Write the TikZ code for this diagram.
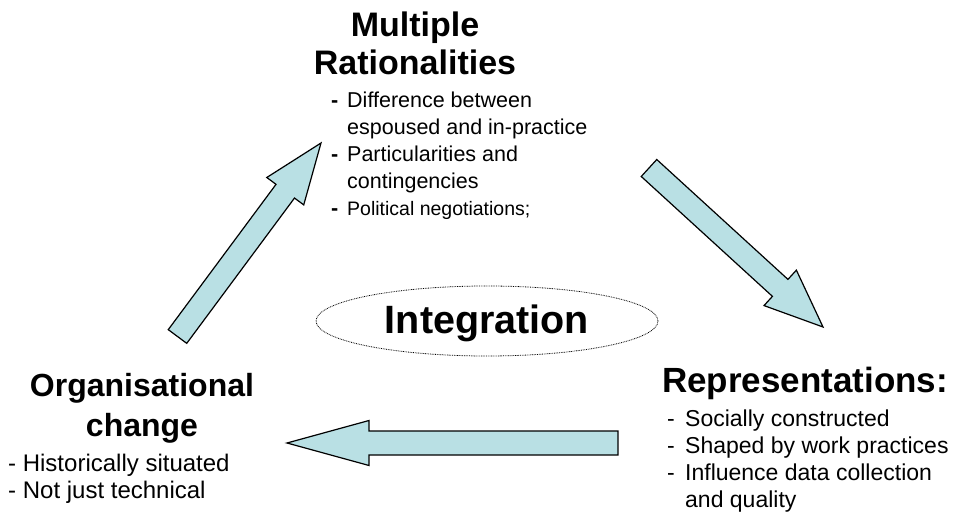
\documentclass[tikz,border=0pt]{standalone}
\usepackage{fontspec}
\setmainfont{Liberation Sans}
\usetikzlibrary{shapes.geometric,calc}
\definecolor{arrfill}{RGB}{185,224,228}
\newcommand{\bdash}{\makebox[16pt][l]{\textbf{-}}}
\newcommand{\nodash}{\hspace*{16pt}}
\newcommand{\rdash}{\makebox[18pt][l]{-}}
\newcommand{\blockarr}[5]{%
  \coordinate (hb#1) at ($(#2)!#5!(#1)$);
  \draw[blockarrow] ($(#1)!#3!90:(#2)$) -- ($(hb#1)!#3!90:(#2)$) -- ($(hb#1)!#4!90:(#2)$) -- (#2)
    -- ($(hb#1)!#4!-90:(#2)$) -- ($(hb#1)!#3!-90:(#2)$) -- ($(#1)!#3!-90:(#2)$) -- cycle;}
\tikzset{
  blockarrow/.style={draw=black, line width=1.2pt, fill=arrfill, line join=miter},
  titletxt/.style={font=\bfseries\fontsize{34}{38}\selectfont, align=center, inner sep=0pt},
  octxt/.style={font=\bfseries\fontsize{32}{40}\selectfont, align=center, inner sep=0pt},
  reptxt/.style={font=\bfseries\fontsize{35}{40}\selectfont, align=left, inner sep=0pt},
  inttxt/.style={font=\bfseries\fontsize{39.5}{44}\selectfont, inner sep=0pt},
  toplist/.style={font=\fontsize{21.5}{27}\selectfont, align=left, inner sep=0pt},
  botlist/.style={font=\fontsize{23}{27}\selectfont, align=left, inner sep=0pt},
  dotellipse/.style={ellipse, draw=black, line width=0.8pt, dash pattern=on 0.8pt off 0.9pt, inner sep=0pt}
}
\begin{document}
\begin{tikzpicture}[x=1pt,y=-1pt]
\useasboundingbox (0,0) rectangle (953,518);
% arrows
\coordinate (a1t) at (177.5,336.5); \coordinate (a1h) at (321,143);
\blockarr{a1t}{a1h}{11.5pt}{23pt}{60pt}
\coordinate (a2t) at (649,168); \coordinate (a2h) at (823,327);
\blockarr{a2t}{a2h}{11.5pt}{24pt}{58pt}
\coordinate (a3t) at (618,443); \coordinate (a3h) at (287,443);
\blockarr{a3t}{a3h}{12pt}{22.5pt}{82pt}
% top
\node[titletxt, anchor=north] (mr) at (415,12) {Multiple\\Rationalities};
\node[toplist, anchor=north west] (mrl) at (331,92) {\bdash Difference between\\\nodash espoused and in-practice\\\bdash Particularities and\\\nodash contingencies\\\bdash{\fontsize{19.5}{27}\selectfont Political negotiations;}};
% centre
\node[dotellipse, minimum width=342pt, minimum height=70pt] (ell) at (487,321) {};
\node[inttxt, anchor=base] (int) at (487,334) {Integration};
% bottom left
\node[octxt, anchor=north] (oc) at (142,373) {Organisational\\change};
\node[botlist, font=\fontsize{24}{27}\selectfont, anchor=north west] (ocl) at (8,454) {- Historically situated\\- Not just technical};
% bottom right
\node[reptxt, anchor=north west] (rep) at (662,367) {Representations:};
\node[botlist, anchor=north west] (repl) at (667,410) {\rdash Socially constructed\\\rdash Shaped by work practices\\\rdash Influence data collection\\\hspace*{18pt}and quality};
\end{tikzpicture}
\end{document}
